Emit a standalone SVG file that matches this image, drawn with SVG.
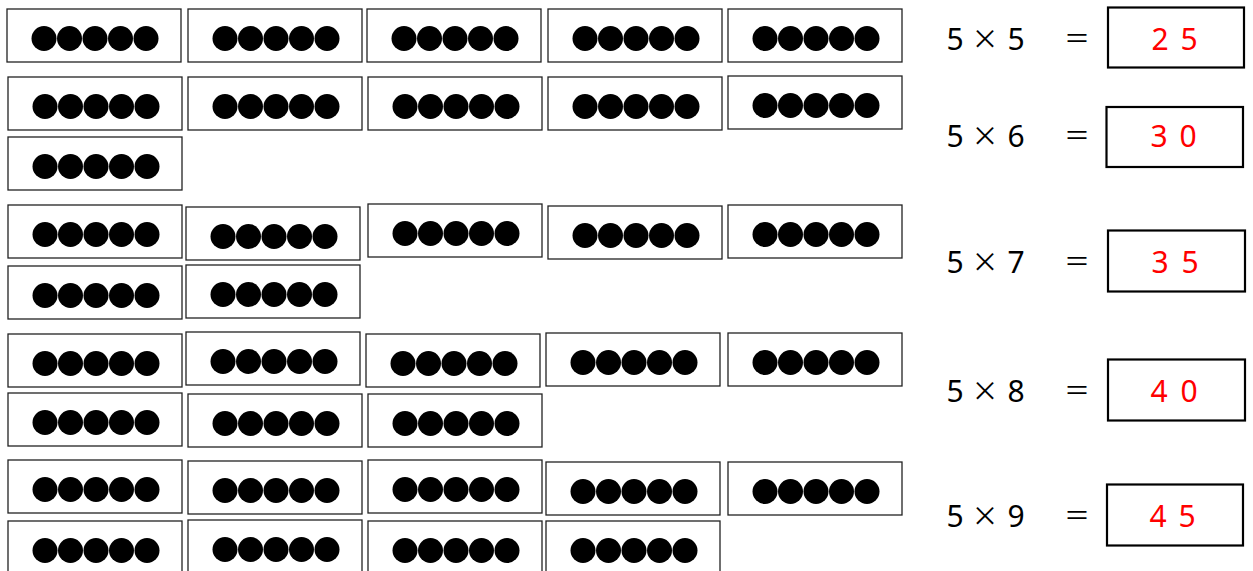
<svg xmlns="http://www.w3.org/2000/svg" xmlns:xlink="http://www.w3.org/1999/xlink" width="1253" height="571" viewBox="0 0 1253 571">
<style>
.box{fill:#fff;stroke:#222;stroke-width:1.3}
.dot{fill:#000}
.eq{font-family:"Noto Sans","DejaVu Sans",sans-serif;font-size:30px;font-weight:400;fill:#000;text-anchor:middle}
.op{font-family:"Noto Sans CJK JP","Noto Sans",sans-serif;font-size:27px;font-weight:400;fill:#000;text-anchor:middle}
.opq{font-family:"Noto Sans CJK JP","Noto Sans",sans-serif;font-size:26px;font-weight:400;fill:#000;text-anchor:middle}
.ans{font-family:"Noto Sans","DejaVu Sans",sans-serif;font-size:30px;font-weight:400;fill:#ff0000;text-anchor:middle}
.abox{fill:#fff;stroke:#000;stroke-width:2.2}
</style>
<defs>
<g id="card">
<rect class="box" x="0" y="0" width="174" height="53"/>
<circle class="dot" cx="37" cy="29.5" r="12.5"/>
<circle class="dot" cx="62.5" cy="29.5" r="12.5"/>
<circle class="dot" cx="88" cy="29.5" r="12.5"/>
<circle class="dot" cx="113.5" cy="29.5" r="12.5"/>
<circle class="dot" cx="139" cy="29.5" r="12.5"/>
</g>
</defs>
<rect width="1253" height="571" fill="#fff"/>
<g id="set5x5">
<g id="c5-1"><use xlink:href="#card" x="7" y="9"/></g>
<g id="c5-2"><use xlink:href="#card" x="188" y="9"/></g>
<g id="c5-3"><use xlink:href="#card" x="367" y="9"/></g>
<g id="c5-4"><use xlink:href="#card" x="548" y="9"/></g>
<g id="c5-5"><use xlink:href="#card" x="728" y="9"/></g>
</g>
<g id="set5x6">
<g id="c6-1"><use xlink:href="#card" x="8" y="77"/></g>
<g id="c6-2"><use xlink:href="#card" x="188" y="77"/></g>
<g id="c6-3"><use xlink:href="#card" x="368" y="77"/></g>
<g id="c6-4"><use xlink:href="#card" x="548" y="77"/></g>
<g id="c6-5"><use xlink:href="#card" x="728" y="76"/></g>
<g id="c6-6"><use xlink:href="#card" x="8" y="137"/></g>
</g>
<g id="set5x7">
<g id="c7-1"><use xlink:href="#card" x="8" y="205"/></g>
<g id="c7-2"><use xlink:href="#card" x="186" y="207"/></g>
<g id="c7-3"><use xlink:href="#card" x="368" y="204"/></g>
<g id="c7-4"><use xlink:href="#card" x="548" y="206"/></g>
<g id="c7-5"><use xlink:href="#card" x="728" y="205"/></g>
<g id="c7-6"><use xlink:href="#card" x="8" y="266"/></g>
<g id="c7-7"><use xlink:href="#card" x="186" y="265"/></g>
</g>
<g id="set5x8">
<g id="c8-1"><use xlink:href="#card" x="8" y="334"/></g>
<g id="c8-2"><use xlink:href="#card" x="186" y="332"/></g>
<g id="c8-3"><use xlink:href="#card" x="366" y="334"/></g>
<g id="c8-4"><use xlink:href="#card" x="546" y="333"/></g>
<g id="c8-5"><use xlink:href="#card" x="728" y="333"/></g>
<g id="c8-6"><use xlink:href="#card" x="8" y="393"/></g>
<g id="c8-7"><use xlink:href="#card" x="188" y="394"/></g>
<g id="c8-8"><use xlink:href="#card" x="368" y="394"/></g>
</g>
<g id="set5x9">
<g id="c9-1"><use xlink:href="#card" x="8" y="460"/></g>
<g id="c9-2"><use xlink:href="#card" x="188" y="461"/></g>
<g id="c9-3"><use xlink:href="#card" x="368" y="460"/></g>
<g id="c9-4"><use xlink:href="#card" x="546" y="462"/></g>
<g id="c9-5"><use xlink:href="#card" x="728" y="462"/></g>
<g id="c9-6"><use xlink:href="#card" x="8" y="521"/></g>
<g id="c9-7"><use xlink:href="#card" x="188" y="520"/></g>
<g id="c9-8"><use xlink:href="#card" x="368" y="521"/></g>
<g id="c9-9"><use xlink:href="#card" x="546" y="521"/></g>
</g>
<g id="eq1">
<text class="eq" x="955" y="50">5</text><text class="op" x="985" y="49">×</text><text class="eq" x="1016" y="50">5</text><text class="opq" x="1077" y="48">＝</text>
<rect class="abox" x="1108" y="7.5" width="136" height="60"/>
<text class="ans" x="1160" y="50">2</text><text class="ans" x="1189" y="50">5</text>
</g>
<g id="eq2">
<text class="eq" x="955" y="147">5</text><text class="op" x="985" y="146">×</text><text class="eq" x="1016" y="147">6</text><text class="opq" x="1077" y="145">＝</text>
<rect class="abox" x="1106.5" y="107" width="136.5" height="60"/>
<text class="ans" x="1159" y="147">3</text><text class="ans" x="1188" y="147">0</text>
</g>
<g id="eq3">
<text class="eq" x="955" y="273">5</text><text class="op" x="985" y="272">×</text><text class="eq" x="1016" y="273">7</text><text class="opq" x="1077" y="271">＝</text>
<rect class="abox" x="1108" y="230.5" width="137" height="61"/>
<text class="ans" x="1160" y="273">3</text><text class="ans" x="1190" y="273">5</text>
</g>
<g id="eq4">
<text class="eq" x="955" y="402">5</text><text class="op" x="985" y="401">×</text><text class="eq" x="1016" y="402">8</text><text class="opq" x="1077" y="400">＝</text>
<rect class="abox" x="1108" y="359.5" width="137" height="61"/>
<text class="ans" x="1159" y="402">4</text><text class="ans" x="1189" y="402">0</text>
</g>
<g id="eq5">
<text class="eq" x="955" y="527">5</text><text class="op" x="985" y="526">×</text><text class="eq" x="1016" y="527">9</text><text class="opq" x="1077" y="525">＝</text>
<rect class="abox" x="1107" y="484.5" width="136" height="61"/>
<text class="ans" x="1158" y="527">4</text><text class="ans" x="1187" y="527">5</text>
</g>
</svg>
